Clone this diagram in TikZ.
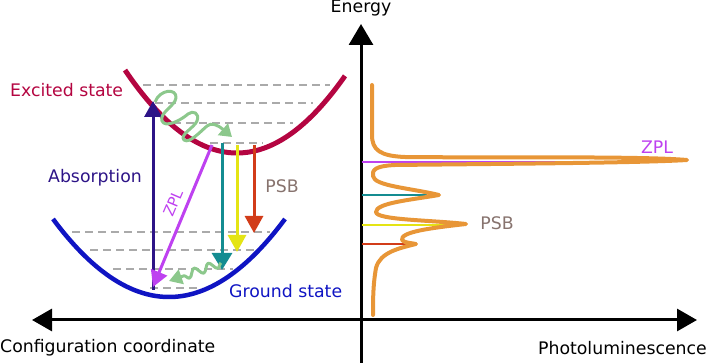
\documentclass[tikz,border=0pt]{standalone}
\usepackage{fontspec}
\setmainfont{DejaVu Sans}
\usetikzlibrary{arrows.meta,decorations.pathmorphing}
\definecolor{crimson}{RGB}{180,5,65}
\definecolor{gblue}{RGB}{15,20,195}
\definecolor{indig}{RGB}{45,20,135}
\definecolor{zplc}{RGB}{190,65,240}
\definecolor{tealc}{RGB}{20,140,145}
\definecolor{yelc}{RGB}{228,228,20}
\definecolor{redc}{RGB}{210,60,25}
\definecolor{greenc}{RGB}{140,200,140}
\definecolor{orangec}{RGB}{232,150,55}
\definecolor{psbc}{RGB}{135,115,110}
\definecolor{levelc}{RGB}{170,170,170}
\begin{document}
\begin{tikzpicture}[x=1pt,y=-1pt,
  lbl/.style={font=\fontsize{17.3}{20}\selectfont, inner sep=0pt},
  axisline/.style={line width=3pt, black},
  curvex/.style={line width=5pt, crimson},
  curvgr/.style={line width=4.5pt, gblue},
  level/.style={line width=2.5pt, levelc, dash pattern=on 8pt off 5pt},
  trans/.style={line width=3pt, -{Triangle[length=16pt,width=17pt]}},
  specline/.style={line width=2pt},
  wave/.style={line width=3pt, greenc, line join=round},
  plc/.style={line width=4pt, orangec, line join=round, line cap=round}]
\useasboundingbox (0,0) rectangle (707,363);

% axes
\coordinate (vbot) at (361,363);
\coordinate (vtop) at (361,24);
\coordinate (hleft) at (32,320);
\coordinate (hright) at (697,320);
\draw[axisline, -{Triangle[length=21pt,width=24pt]}] (vbot) -- (vtop);
\draw[axisline, {Triangle[length=20pt,width=22pt]}-{Triangle[length=20pt,width=22pt]}] (hleft) -- (hright);
\node[lbl] (energy) at (361,8) {Energy};
\node[lbl, anchor=west] (confcoord) at (0,348) {Configuration coordinate};
\node[lbl, anchor=east] (photolum) at (707,348) {Photoluminescence};

% vibrational levels, excited
\draw[level] (143,85) -- (330,85);
\draw[level] (155,103) -- (313,103);
\draw[level] (173,123) -- (293,123);
\draw[level] (210,143) -- (263,143);
% vibrational levels, ground
\draw[level] (72,232) -- (270,232);
\draw[level] (90,250) -- (257,250);
\draw[level] (113,269) -- (233,269);
\draw[level] (150,288) -- (202,288);

% potential curves
\draw[curvex] plot[domain=125:345, samples=80, smooth] (\x, {153-80*((\x-237)/110)^2});
\draw[curvgr] plot[domain=53:285, samples=80, smooth] (\x, {297-78*((\x-169)/116)^2});

\node[lbl, text=crimson, anchor=west] (excited) at (10,90) {Excited state};
\node[lbl, text=gblue, anchor=west] (ground) at (229,291) {Ground state};
\node[lbl, text=indig] (absorb) at (95,178) {Absorption};
\node[lbl, text=psbc] (psbleft) at (282,186) {PSB};

% transitions
\coordinate (absS) at (153,290);
\coordinate (absE) at (153,101);
\draw[trans, indig] (absS) -- (absE);
\coordinate (zplS) at (212,145);
\coordinate (zplE) at (153,287);
\draw[trans, zplc] (zplS) -- (zplE);
\node[lbl, text=zplc, rotate=67, font=\fontsize{15}{18}\selectfont] (zpllabel) at (173,203) {ZPL};
\coordinate (teS) at (222,143);
\coordinate (teE) at (222,270);
\draw[trans, tealc, -{Triangle[length=17pt,width=20pt]}] (teS) -- (teE);
\coordinate (yeS) at (237,145);
\coordinate (yeE) at (237,252);
\draw[trans, yelc, -{Triangle[length=17pt,width=18pt]}] (yeS) -- (yeE);
\coordinate (reS) at (254,145);
\coordinate (reE) at (254,233);
\draw[trans, redc, -{Triangle[length=17pt,width=18pt]}] (reS) -- (reE);

% relaxation waves
\coordinate (wexS) at (155,102);
\coordinate (wexE) at (232,137);
\draw[wave, -{Triangle[length=12pt,width=15pt]}] (wexS)
  .. controls (160,89) and (177,88) .. (176,98)
  .. controls (175,106) and (159,113) .. (162,121)
  .. controls (165,128) and (180,121) .. (188,114)
  .. controls (193,110) and (200,113) .. (197,121)
  .. controls (194,128) and (179,135) .. (184,140)
  .. controls (189,144) and (200,132) .. (207,126)
  .. controls (211,122) and (218,125) .. (wexE);
\coordinate (wgrS) at (221,263);
\coordinate (wgrE) at (169,281);
\draw[wave, decorate, decoration={snake, amplitude=4pt, segment length=15pt, post length=9pt},
  -{Triangle[length=13pt,width=15pt]}] (wgrS) -- (wgrE);

% spectrum lines
\coordinate (sz) at (362,162);
\coordinate (szE) at (595,162);
\draw[specline, zplc] (sz) -- (szE);
\coordinate (st) at (362,195);
\coordinate (stE) at (427,195);
\draw[specline, tealc] (st) -- (stE);
\coordinate (sy) at (362,225);
\coordinate (syE) at (455,225);
\draw[specline, yelc] (sy) -- (syE);
\coordinate (sr) at (362,244);
\coordinate (srE) at (411,244);
\draw[specline, redc] (sr) -- (srE);

% PL spectrum
\draw[plc] (372,85) -- (372,135)
  .. controls (372,150) and (380,156) .. (405,157)
  .. controls (500,158) and (640,156) .. (687,160)
  .. controls (640,163) and (480,164) .. (395,165)
  .. controls (375,166) and (372,170) .. (373,176)
  .. controls (374,186) and (410,188) .. (439,195)
  .. controls (410,200) and (376,203) .. (376,212)
  .. controls (376,220) and (430,220) .. (466,224)
  .. controls (430,228) and (400,232) .. (402,240)
  .. controls (404,243) and (412,243) .. (416,244)
  .. controls (400,248) and (380,252) .. (376,268)
  .. controls (373,285) and (373,300) .. (373,315);
\node[lbl, text=zplc] (zplright) at (657,147) {ZPL};
\node[lbl, text=psbc] (psbright) at (497,223) {PSB};
\end{tikzpicture}
\end{document}
